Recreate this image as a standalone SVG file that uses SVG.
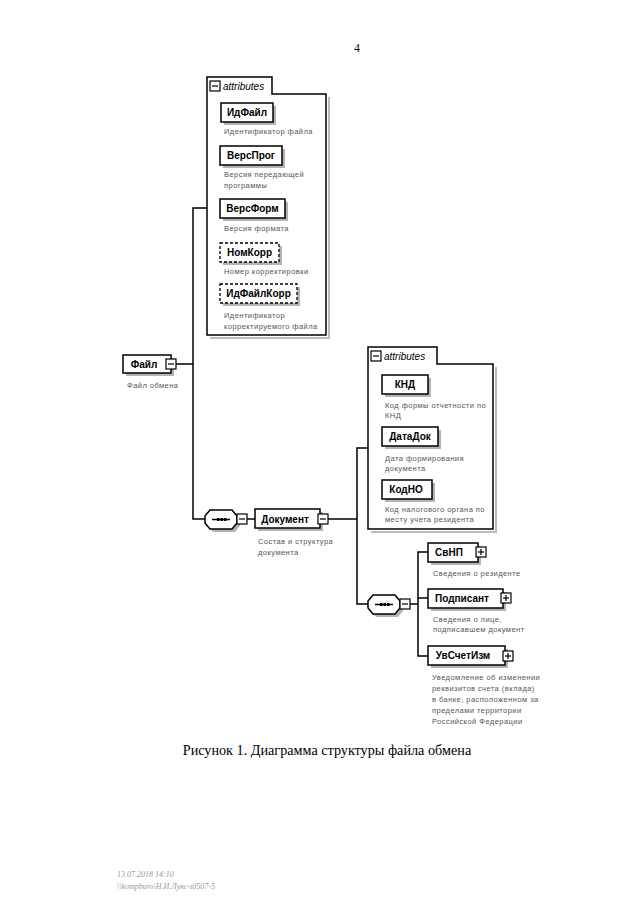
<svg xmlns="http://www.w3.org/2000/svg" width="640" height="905" viewBox="0 0 640 905">
<style>
.bg{fill:#fff}
.ln{fill:none;stroke:#000;stroke-width:1.5}
.box{fill:#fff;stroke:#000;stroke-width:1.5}
.dbox{fill:#fff;stroke:#000;stroke-width:1.3;stroke-dasharray:3 2}
.sh{fill:#b4b4b4}
.lbl{font-family:"Liberation Sans",Arial,sans-serif;font-weight:bold;font-size:10px;fill:#000}
.desc{font-family:"Liberation Sans",Arial,sans-serif;font-size:7.5px;fill:#555;letter-spacing:0.45px}
.attr{font-family:"Liberation Sans",Arial,sans-serif;font-style:italic;font-size:10px;fill:#000}
.ic{fill:#fff;stroke:#000;stroke-width:1.2}
.serif{font-family:"Liberation Serif","Times New Roman",serif;fill:#000}
.foot{font-family:"Liberation Serif","Times New Roman",serif;font-style:italic;font-size:8px;fill:#999}
</style>
<defs>
<g id="minus"><rect class="ic" x="0" y="0" width="10" height="10"/><line x1="2" y1="5" x2="8" y2="5" stroke="#000" stroke-width="1.2"/></g>
<g id="plus"><rect class="ic" x="0" y="0" width="10" height="10"/><line x1="2" y1="5" x2="8" y2="5" stroke="#000" stroke-width="1.2"/><line x1="5" y1="2" x2="5" y2="8" stroke="#000" stroke-width="1.2"/></g>
<g id="seq">
<polygon class="sh" points="8,3 30,3 35,9 35,16 30,22 8,22 3,16 3,9"/>
<polygon class="box" points="5,0 27,0 32,6 32,13 27,19 5,19 0,13 0,6"/>
<line x1="7" y1="9.5" x2="25" y2="9.5" stroke="#000" stroke-width="1.5"/>
<rect x="12" y="8" width="2.5" height="3" fill="#000"/><rect x="15.5" y="8" width="2.5" height="3" fill="#000"/><rect x="19" y="8" width="2.5" height="3" fill="#000"/>
</g>
</defs>
<rect class="bg" x="0" y="0" width="640" height="905"/>
<text class="serif" x="357" y="52" font-size="12" text-anchor="middle">4</text>

<g id="connectors">
<polyline class="ln" points="176,364 193,364"/>
<polyline class="ln" points="207,208 193,208 193,519 205,519"/>
<polyline class="ln" points="247,519 255,519"/>
<polyline class="ln" points="328,519 357,519"/>
<polyline class="ln" points="368,448 357,448 357,604 368,604"/>
<polyline class="ln" points="410,604 418,604"/>
<polyline class="ln" points="428,552 418,552 418,656 428,656"/>
<polyline class="ln" points="418,598 428,598"/>
</g>

<g id="attributes1">
<path d="M210,338 H329 V97" fill="none" stroke="#bbb" stroke-width="2"/>
<path class="box" d="M207,335 V77 H272 V94 H326 V335 Z"/>
<use href="#minus" x="210" y="81"/>
<text class="attr" x="223" y="90">attributes</text>
</g>

<g id="IdFile">
<rect class="sh" x="224" y="106" width="52" height="19"/>
<rect class="box" x="221" y="103" width="52" height="19"/>
<text class="lbl" x="247" y="116" text-anchor="middle">ИдФайл</text>
<text class="desc" x="224" y="134">Идентификатор файла</text>
</g>
<g id="VersProg">
<rect class="sh" x="223" y="149" width="62" height="19"/>
<rect class="box" x="220" y="146" width="62" height="19"/>
<text class="lbl" x="251" y="159" text-anchor="middle">ВерсПрог</text>
<text class="desc" x="224" y="177">Версия передающей</text>
<text class="desc" x="224" y="188">программы</text>
</g>
<g id="VersForm">
<rect class="sh" x="223" y="202" width="65" height="19"/>
<rect class="box" x="220" y="199" width="65" height="19"/>
<text class="lbl" x="252.5" y="212" text-anchor="middle">ВерсФорм</text>
<text class="desc" x="224" y="231">Версия формата</text>
</g>
<g id="NomKorr">
<rect class="sh" x="223" y="246" width="59" height="19"/>
<rect class="dbox" x="220" y="243" width="59" height="19"/>
<text class="lbl" x="249.5" y="256" text-anchor="middle">НомКорр</text>
<text class="desc" x="224" y="274">Номер корректировки</text>
</g>
<g id="IdFileKorr">
<rect class="sh" x="223" y="287" width="77" height="19"/>
<rect class="dbox" x="220" y="284" width="77" height="19"/>
<text class="lbl" x="258.5" y="297" text-anchor="middle">ИдФайлКорр</text>
<text class="desc" x="224" y="318">Идентификатор</text>
<text class="desc" x="224" y="329">корректируемого файла</text>
</g>

<g id="File">
<rect class="sh" x="126" y="358" width="48" height="18"/>
<rect class="box" x="123" y="355" width="48" height="18"/>
<text class="lbl" x="144" y="368" text-anchor="middle">Файл</text>
<use href="#minus" x="166" y="359"/>
<text class="desc" x="127" y="388">Файл обмена</text>
</g>

<g id="seq1"><use href="#seq" x="205" y="510"/><use href="#minus" x="237" y="514"/></g>

<g id="Document">
<rect class="sh" x="258" y="512" width="65" height="19"/>
<rect class="box" x="255" y="509" width="65" height="19"/>
<text class="lbl" x="285" y="523" text-anchor="middle">Документ</text>
<use href="#minus" x="318" y="514"/>
<text class="desc" x="258" y="544">Состав и структура</text>
<text class="desc" x="258" y="555">документа</text>
</g>

<g id="attributes2">
<path d="M371,532 H496 V367" fill="none" stroke="#bbb" stroke-width="2"/>
<path class="box" d="M368,529 V347 H437 V364 H493 V529 Z"/>
<use href="#minus" x="371" y="351"/>
<text class="attr" x="384" y="360">attributes</text>
</g>
<g id="KND">
<rect class="sh" x="385" y="378" width="46" height="19"/>
<rect class="box" x="382" y="375" width="46" height="19"/>
<text class="lbl" x="405" y="388" text-anchor="middle">КНД</text>
<text class="desc" x="385" y="408">Код формы отчетности по</text>
<text class="desc" x="385" y="418">КНД</text>
</g>
<g id="DataDok">
<rect class="sh" x="385" y="430" width="56" height="19"/>
<rect class="box" x="382" y="427" width="56" height="19"/>
<text class="lbl" x="410" y="440" text-anchor="middle">ДатаДок</text>
<text class="desc" x="385" y="461">Дата формирования</text>
<text class="desc" x="385" y="471">документа</text>
</g>
<g id="KodNO">
<rect class="sh" x="385" y="483" width="50" height="19"/>
<rect class="box" x="382" y="480" width="50" height="19"/>
<text class="lbl" x="406" y="493" text-anchor="middle">КодНО</text>
<text class="desc" x="385" y="512">Код налогового органа по</text>
<text class="desc" x="385" y="522">месту учета резидента</text>
</g>

<g id="seq2"><use href="#seq" x="368" y="595"/><use href="#minus" x="400" y="599"/></g>

<g id="SvNP">
<rect class="sh" x="431" y="546" width="50" height="19"/>
<rect class="box" x="428" y="543" width="50" height="19"/>
<text class="lbl" x="449" y="556" text-anchor="middle">СвНП</text>
<use href="#plus" x="476" y="547"/>
<text class="desc" x="433" y="576">Сведения о резиденте</text>
</g>
<g id="Podpisant">
<rect class="sh" x="431" y="592" width="75" height="19"/>
<rect class="box" x="428" y="589" width="75" height="19"/>
<text class="lbl" x="462" y="602" text-anchor="middle">Подписант</text>
<use href="#plus" x="501" y="593"/>
<text class="desc" x="433" y="622">Сведения о лице,</text>
<text class="desc" x="433" y="632">подписавшем документ</text>
</g>
<g id="UvSchetIzm">
<rect class="sh" x="431" y="649" width="77" height="19"/>
<rect class="box" x="428" y="646" width="77" height="19"/>
<text class="lbl" x="463" y="659" text-anchor="middle">УвСчетИзм</text>
<use href="#plus" x="503" y="651"/>
<text class="desc" x="432" y="680">Уведомление об изменении</text>
<text class="desc" x="432" y="691">реквизитов счета (вклада)</text>
<text class="desc" x="432" y="702">в банке, расположенном за</text>
<text class="desc" x="432" y="713">пределами территории</text>
<text class="desc" x="432" y="724">Российской Федерации</text>
</g>

<text class="serif" x="327" y="755" font-size="14.2" text-anchor="middle">Рисунок 1. Диаграмма структуры файла обмена</text>
<text class="foot" x="117" y="877">13.07.2018 14:10</text>
<text class="foot" x="117" y="889">\\kompburo\Н.И.Лукс-t0507-5</text>
</svg>
